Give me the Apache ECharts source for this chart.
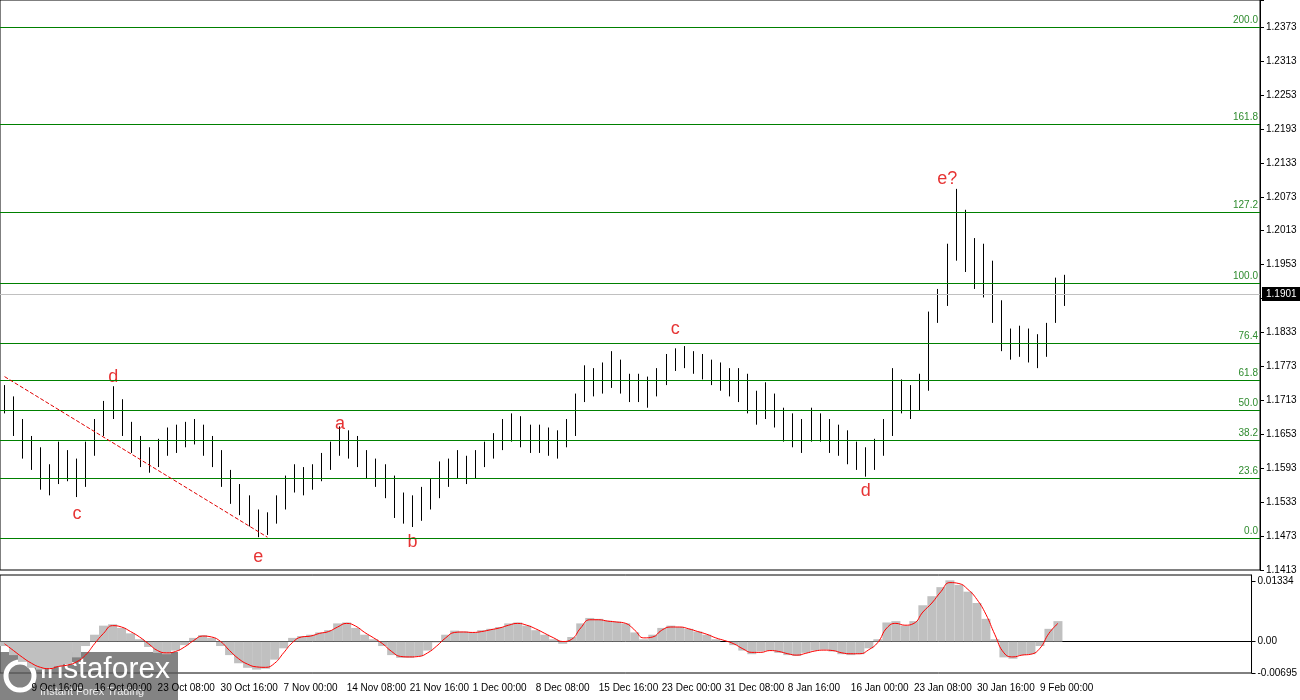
<!DOCTYPE html>
<html>
<head>
    <meta charset="utf-8" />
    <title>EURUSD H4</title>
    <script src="https://cdn.jsdelivr.net/npm/echarts@6/dist/echarts.min.js"></script>
    <style>
        html, body { margin: 0; padding: 0; background: #fff; }
        #chart { width: 1300px; height: 700px; }
    </style>
</head>
<body>
    <div id="chart"></div>
    <script>
        // price bars (4h), open = previous close
        var firstOpen = 1.1720;
        var closes = [1.1711,1.1675,1.1631,1.1622,1.1587,1.1569,1.1613,1.1596,1.1560,1.1622,
            1.1658,1.1693,1.1711,1.1667,1.1640,1.1613,1.1604,1.1622,1.1640,1.1640,
            1.1658,1.1658,1.1640,1.1613,1.1578,1.1551,1.1533,1.1507,1.1489,1.1498,
            1.1525,1.1551,1.1578,1.1569,1.1578,1.1596,1.1622,1.1649,1.1640,1.1613,
            1.1596,1.1587,1.1569,1.1533,1.1525,1.1516,1.1533,1.1551,1.1587,1.1587,
            1.1604,1.1587,1.1604,1.1622,1.1631,1.1658,1.1667,1.1658,1.1649,1.1649,
            1.1640,1.1640,1.1658,1.1711,1.1746,1.1746,1.1755,1.1773,1.1746,1.1738,
            1.1738,1.1729,1.1746,1.1773,1.1791,1.1791,1.1782,1.1773,1.1764,1.1755,
            1.1746,1.1746,1.1720,1.1702,1.1720,1.1693,1.1675,1.1667,1.1649,1.1675,
            1.1667,1.1649,1.1649,1.1631,1.1613,1.1604,1.1622,1.1658,1.1729,1.1720,
            1.1702,1.1738,1.1835,1.1888,1.1959,1.2045,1.1995,1.1959,1.1942,1.1888,
            1.1826,1.1809,1.1817,1.1809,1.1800,1.1826,1.1888,1.1901];
        var highs = [1.1740,1.1720,1.1680,1.1650,1.1630,1.1600,1.1640,1.1625,1.1610,1.1640,
            1.1680,1.1712,1.1738,1.1715,1.1675,1.1650,1.1630,1.1645,1.1665,1.1670,
            1.1675,1.1680,1.1670,1.1650,1.1625,1.1590,1.1565,1.1545,1.1520,1.1515,
            1.1545,1.1580,1.1600,1.1595,1.1600,1.1620,1.1640,1.1667,1.1660,1.1650,
            1.1625,1.1610,1.1600,1.1580,1.1550,1.1545,1.1560,1.1575,1.1605,1.1610,
            1.1625,1.1615,1.1625,1.1640,1.1655,1.1680,1.1690,1.1685,1.1670,1.1670,
            1.1665,1.1660,1.1680,1.1725,1.1775,1.1770,1.1780,1.1800,1.1785,1.1760,
            1.1760,1.1755,1.1770,1.1795,1.1805,1.1809,1.1800,1.1795,1.1785,1.1780,
            1.1770,1.1770,1.1760,1.1730,1.1745,1.1725,1.1700,1.1690,1.1680,1.1700,
            1.1690,1.1680,1.1670,1.1660,1.1640,1.1630,1.1645,1.1680,1.1770,1.1750,
            1.1740,1.1760,1.1870,1.1910,1.1990,1.2087,1.2050,1.2000,1.1990,1.1960,
            1.1890,1.1840,1.1845,1.1840,1.1830,1.1850,1.1930,1.1935];
        var lows = [1.1690,1.1650,1.1610,1.1590,1.1555,1.1545,1.1565,1.1570,1.1542,1.1560,
            1.1615,1.1650,1.1680,1.1650,1.1620,1.1595,1.1585,1.1595,1.1615,1.1620,
            1.1630,1.1635,1.1615,1.1595,1.1560,1.1530,1.1510,1.1490,1.1471,1.1475,
            1.1495,1.1520,1.1550,1.1545,1.1555,1.1570,1.1590,1.1615,1.1610,1.1595,
            1.1575,1.1560,1.1540,1.1505,1.1495,1.1489,1.1500,1.1520,1.1540,1.1560,
            1.1575,1.1565,1.1575,1.1595,1.1610,1.1625,1.1640,1.1630,1.1620,1.1620,
            1.1615,1.1610,1.1630,1.1650,1.1710,1.1720,1.1725,1.1735,1.1725,1.1710,
            1.1710,1.1700,1.1720,1.1740,1.1765,1.1770,1.1760,1.1750,1.1740,1.1730,
            1.1720,1.1710,1.1690,1.1670,1.1680,1.1665,1.1640,1.1630,1.1620,1.1640,
            1.1640,1.1620,1.1615,1.1600,1.1590,1.1578,1.1590,1.1615,1.1650,1.1690,
            1.1680,1.1695,1.1730,1.1850,1.1880,1.1960,1.1940,1.1910,1.1895,1.1850,
            1.1800,1.1785,1.1790,1.1780,1.1770,1.1790,1.1850,1.1880];

        // oscillator
        var oscHist = [-0.0010,-0.0030,-0.0045,-0.0058,-0.0062,-0.0060,-0.0055,-0.0050,-0.0035,-0.0010,
            0.0015,0.0035,0.0038,0.0030,0.0018,0.0005,-0.0012,-0.0025,-0.0028,-0.0020,
            -0.0008,0.0008,0.0014,0.0008,-0.0010,-0.0030,-0.0048,-0.0058,-0.0062,-0.0060,
            -0.0040,-0.0015,0.0008,0.0012,0.0015,0.0020,0.0025,0.0040,0.0042,0.0030,
            0.0015,0.0005,-0.0010,-0.0030,-0.0036,-0.0036,-0.0032,-0.0020,-0.0002,0.0015,
            0.0024,0.0022,0.0020,0.0025,0.0028,0.0032,0.0040,0.0042,0.0035,0.0025,
            0.0015,0.0005,-0.0005,0.0010,0.0040,0.0052,0.0050,0.0046,0.0044,0.0040,
            0.0020,0.0005,0.0015,0.0030,0.0035,0.0032,0.0028,0.0022,0.0015,0.0005,
            0.0000,-0.0008,-0.0020,-0.0028,-0.0022,-0.0020,-0.0025,-0.0030,-0.0032,-0.0025,
            -0.0020,-0.0018,-0.0022,-0.0028,-0.0030,-0.0028,-0.0015,0.0005,0.0042,0.0045,
            0.0035,0.0045,0.0080,0.0100,0.0120,0.0135,0.0125,0.0110,0.0085,0.0050,
            0.0005,-0.0035,-0.0038,-0.0030,-0.0028,-0.0010,0.0028,0.0045];
        var oscSignal = [-0.0005,-0.0020,-0.0035,-0.0048,-0.0057,-0.0060,-0.0055,-0.0052,-0.0045,-0.0030,
            -0.0005,0.0018,0.0035,0.0032,0.0022,0.0010,-0.0005,-0.0020,-0.0025,-0.0022,
            -0.0012,0.0002,0.0012,0.0010,0.0000,-0.0020,-0.0038,-0.0050,-0.0056,-0.0057,
            -0.0048,-0.0025,-0.0002,0.0010,0.0012,0.0018,0.0022,0.0032,0.0040,0.0034,
            0.0020,0.0008,-0.0005,-0.0022,-0.0033,-0.0034,-0.0033,-0.0025,-0.0010,0.0008,
            0.0020,0.0021,0.0020,0.0022,0.0026,0.0030,0.0036,0.0040,0.0036,0.0028,
            0.0018,0.0008,0.0000,0.0005,0.0030,0.0048,0.0048,0.0045,0.0043,0.0040,
            0.0025,0.0008,0.0010,0.0025,0.0032,0.0032,0.0028,0.0022,0.0016,0.0008,
            0.0002,-0.0005,-0.0016,-0.0024,-0.0024,-0.0020,-0.0022,-0.0027,-0.0030,-0.0026,
            -0.0021,-0.0019,-0.0020,-0.0025,-0.0027,-0.0027,-0.0018,-0.0002,0.0030,0.0040,
            0.0036,0.0040,0.0065,0.0085,0.0110,0.0130,0.0128,0.0115,0.0093,0.0060,
            0.0015,-0.0025,-0.0034,-0.0030,-0.0028,-0.0015,0.0018,0.0040];

        // fibonacci levels
        var fibNames = ['0.0', '23.6', '38.2', '50.0', '61.8', '76.4', '100.0', '127.2', '161.8', '200.0'];
        var fibValues = [1.1469, 1.1576, 1.1642, 1.1695, 1.1748, 1.1814, 1.1920, 1.2045, 1.2201, 1.2373];

        // time axis
        var slotCount = 139;
        var dateLabelIdx = [3, 10, 17, 24, 31, 38, 45, 52, 59, 66, 73, 80, 87, 94, 101, 108, 115];
        var dateLabels = ['9 Oct 16:00', '16 Oct 00:00', '23 Oct 08:00', '30 Oct 16:00', '7 Nov 00:00',
            '14 Nov 08:00', '21 Nov 16:00', '1 Dec 00:00', '8 Dec 08:00', '15 Dec 16:00', '23 Dec 00:00',
            '31 Dec 08:00', '8 Jan 16:00', '16 Jan 00:00', '23 Jan 08:00', '30 Jan 16:00', '9 Feb 00:00'];

        // wave marks [index, price, text]
        var waveMarks = [[8, 1.1512, 'c'], [12, 1.1755, 'd'], [28, 1.1436, 'e'], [37, 1.1672, 'a'],
            [45, 1.1462, 'b'], [74, 1.1839, 'c'], [95, 1.1553, 'd'], [104, 1.2105, 'e?']];

        var lastPrice = 1.1901;

        var cats = [];
        for (var i = 0; i < slotCount; i++) cats.push('');
        dateLabelIdx.forEach(function (idx, k) { cats[idx] = dateLabels[k]; });

        var ohlc = closes.map(function (c, i) {
            var o = i === 0 ? firstOpen : closes[i - 1];
            return [o, c, lows[i], highs[i]];
        });

        var fibLines = fibValues.map(function (v, k) {
            return { yAxis: v, label: { formatter: fibNames[k] } };
        });

        var font = 'Liberation Sans';
        var chart = echarts.init(document.getElementById('chart'));
        chart.setOption({
            animation: false,
            backgroundColor: '#fff',
            textStyle: { fontFamily: font },
            grid: [
                { left: 0, right: 40, top: 0, height: 570, show: true, borderColor: '#000', borderWidth: 1 },
                { left: 0, right: 40, top: 575, height: 98, show: true, borderColor: '#000', borderWidth: 1 }
            ],
            xAxis: [
                { type: 'category', data: cats, gridIndex: 0, axisLine: { show: false }, axisTick: { show: false }, axisLabel: { show: false } },
                {
                    type: 'category', data: cats, gridIndex: 1,
                    axisLine: { lineStyle: { color: '#000' } },
                    axisTick: { interval: function (i, v) { return v !== ''; }, length: 4, lineStyle: { color: '#000' } },
                    axisLabel: { interval: 0, color: '#000', fontSize: 10, align: 'left', margin: 10, fontFamily: font }
                }
            ],
            yAxis: [
                {
                    type: 'value', gridIndex: 0, position: 'right', min: 1.1413, max: 1.2421, interval: 0.006,
                    splitLine: { show: false },
                    axisLine: { show: true, lineStyle: { color: '#000' } },
                    axisTick: { show: true, length: 4, lineStyle: { color: '#000' } },
                    axisLabel: {
                        color: '#000', fontSize: 10, margin: 6, fontFamily: font,
                        formatter: function (v) { return v > 1.242 ? '' : v.toFixed(4); }
                    }
                },
                {
                    type: 'value', gridIndex: 1, position: 'right', min: -0.00695, max: 0.01468,
                    splitLine: { show: false },
                    axisLine: { show: true, lineStyle: { color: '#000' } },
                    axisTick: { show: true, customValues: [-0.00695, 0, 0.01334], length: 4, lineStyle: { color: '#000' } },
                    axisLabel: {
                        color: '#000', fontSize: 10, margin: 6, customValues: [-0.00695, 0, 0.01334], fontFamily: font,
                        formatter: function (v) { return v === 0 ? '0.00' : v.toFixed(5); }
                    }
                }
            ],
            series: [
                {
                    type: 'candlestick', xAxisIndex: 0, yAxisIndex: 0, data: ohlc, barWidth: 1,
                    itemStyle: { color: '#000', color0: '#000', borderColor: '#000', borderColor0: '#000', borderWidth: 1 },
                    markLine: {
                        silent: true, symbol: 'none', precision: 4,
                        lineStyle: { color: '#008000', type: 'solid', width: 1 },
                        label: { position: 'insideEndTop', color: '#2e8b2e', fontSize: 10, distance: [2, 2], fontFamily: font },
                        data: fibLines.concat([
                            { yAxis: lastPrice, lineStyle: { color: '#c0c0c0' },
                              label: { position: 'end', formatter: '1.1901', color: '#fff', backgroundColor: '#000', padding: [2, 4], fontSize: 10, distance: 2 } },
                            [{ coord: [0, 1.1755], lineStyle: { color: '#e00000', type: 'dashed', width: 1 }, label: { show: false } },
                             { coord: [29, 1.1471] }]
                        ])
                    }
                },
                {
                    type: 'scatter', xAxisIndex: 0, yAxisIndex: 0, symbolSize: 0,
                    data: waveMarks.map(function (m) { return { value: [m[0], m[1]], name: m[2] }; }),
                    label: { show: true, formatter: '{b}', color: '#e00000', fontSize: 18, fontFamily: font, position: 'inside' }
                },
                {
                    type: 'bar', xAxisIndex: 1, yAxisIndex: 1, data: oscHist, barCategoryGap: '0%',
                    itemStyle: { color: '#c0c0c0' }
                },
                {
                    type: 'line', xAxisIndex: 1, yAxisIndex: 1, data: oscSignal, symbol: 'none', smooth: true,
                    lineStyle: { color: '#ff0000', width: 1 }
                }
            ],
            graphic: [
                { type: 'rect', left: 0, top: 652, shape: { width: 178, height: 48 }, style: { fill: 'rgba(90,90,90,0.75)' } },
                { type: 'text', left: 40, top: 655, style: { text: 'instaforex', fill: '#fff', font: '30px "Liberation Sans"' } },
                { type: 'text', left: 40, top: 686, style: { text: 'Instant Forex Trading', fill: '#eee', font: '11px "Liberation Sans"' } },
                { type: 'circle', shape: { cx: 20, cy: 676, r: 14 }, style: { fill: 'none', stroke: '#fff', lineWidth: 5 } }
            ]
        });
    </script>
</body>
</html>
